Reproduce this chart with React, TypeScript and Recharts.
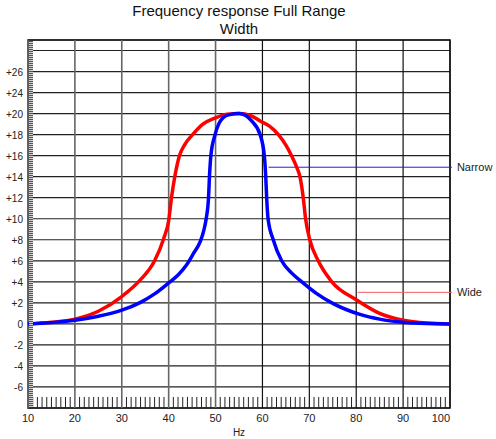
import React from 'react'
import { LineChart, Line, XAxis, YAxis, CartesianGrid, ReferenceArea, ReferenceLine, Label } from 'recharts'

document.body.style.margin = '0'

// frequency (Hz) and level (dB)
const wideHz = [10, 15, 20, 25, 30, 34, 37, 39, 40, 40.6, 41.3, 42.3, 43.5, 45.1, 47.3, 50, 52.5, 55, 57.5, 59.5, 61.5, 63.4, 65, 66.2, 67.3, 68, 68.7, 69.2, 70.1, 71.9, 74.8, 80, 85, 90, 95, 100]
const wideDb = [0, 0.15, 0.45, 1.2, 2.6, 4.2, 6.0, 8.2, 9.8, 12, 14, 16, 17.1, 18, 19, 19.6, 19.95, 20, 19.8, 19.3, 18.8, 18, 17, 16, 14.9, 14, 12, 10, 8, 6, 4, 2.3, 1.0, 0.35, 0.08, 0]

const narrowHz = [10, 15, 20, 25, 30, 34, 37, 40, 42, 43.8, 45.3, 46.7, 47.5, 48, 48.5, 48.7, 49, 49.9, 51.6, 53, 55, 56.5, 57.7, 59.5, 60.4, 60.7, 60.9, 61.2, 62.3, 64.1, 66.2, 68.4, 71.5, 74.8, 80.8, 85, 90, 95, 100]
const narrowDb = [0, 0.12, 0.35, 0.72, 1.3, 2.05, 2.85, 3.9, 4.65, 5.6, 6.7, 7.8, 8.9, 10, 12, 14, 16, 18, 19.6, 19.9, 20, 19.8, 19.3, 18, 16, 14, 12, 10, 8, 6, 4.85, 4, 2.9, 2, 0.9, 0.45, 0.15, 0.03, 0]

const wideData = wideHz.map((x, i) => ({ x, y: wideDb[i] }))
const narrowData = narrowHz.map((x, i) => ({ x, y: narrowDb[i] }))

const xTicks = [10, 20, 30, 40, 50, 60, 70, 80, 90, 100]
const yTicks = [-6, -4, -2, 0, 2, 4, 6, 8, 10, 12, 14, 16, 18, 20, 22, 24, 26]
const yTickLabels = ['-6', '-4', '-2', '0', '+2', '+4', '+6', '+8', '+10', '+12', '+14', '+16', '+18', '+20', '+24', '+26', '']

// minor tick marks along the bottom, every 1 Hz
const minorX = Array.from({ length: 91 }, (_, i) => 10 + i).filter((v) => v % 10 !== 0)

const font = '"Liberation Sans", Arial, Helvetica, sans-serif'

const XTick = (props: any) => {
    const { x, y, payload } = props
    const last = payload.value === 100
    return (
        <text x={x} y={y + 6} textAnchor={last ? 'end' : 'middle'} fontSize={11} fill="#222" fontFamily={font}>
            {payload.value}
        </text>
    )
}

const YTick = (props: any) => {
    const { x, y, payload } = props
    const idx = yTicks.indexOf(payload.value)
    return (
        <text x={x} y={y + 4} textAnchor="end" fontSize={10} fill="#222" fontFamily={font}>
            {idx >= 0 ? yTickLabels[idx] : ''}
        </text>
    )
}

const App = () => {
    return (
        <div style={{ position: 'relative', width: 496, height: 439, fontFamily: font, background: '#fff' }}>
            <div style={{ position: 'absolute', top: 2, left: 0, width: 478, textAlign: 'center', fontSize: 15, lineHeight: '18px', color: '#111' }}>
                Frequency response Full Range
                <br />
                Width
            </div>
            <LineChart width={496} height={439} margin={{ top: 40, right: 46, left: 0, bottom: 0 }}>
                <CartesianGrid stroke="#222" strokeWidth={1.2} vertical={false} />
                <XAxis dataKey="x" type="number" domain={[10, 100]} ticks={xTicks} interval={0}
                    axisLine={false} tickLine={false} tick={<XTick />} height={31}>
                    <Label value="Hz" position="insideBottom" offset={3} fontSize={10} fill="#222" fontFamily={font} />
                </XAxis>
                <YAxis type="number" domain={[-8, 27]} ticks={yTicks} interval={0} width={28}
                    axisLine={false} tickLine={false} tickSize={0} tickMargin={5} tick={<YTick />} />
                {xTicks.map((v) => (
                    <ReferenceLine key={'gx' + v} x={v} stroke={v <= 50 ? '#666' : '#111'} strokeWidth={v <= 50 ? 1.6 : 1.2} />
                ))}
                {minorX.map((v) => (
                    <ReferenceLine key={'mx' + v} segment={[{ x: v, y: -8 }, { x: v, y: -6.95 }]}
                        ifOverflow="visible" stroke="#222" strokeWidth={1} />
                ))}
                <ReferenceArea x1={10} x2={100} y1={-8} y2={27} fill="none" stroke="#111" strokeWidth={1.5} />
                <ReferenceLine segment={[{ x: 61.3, y: 14.9 }, { x: 100.4, y: 14.9 }]} ifOverflow="visible"
                    stroke="#2020e0" strokeWidth={1}>
                    <Label value="Narrow" position="right" offset={5} fontSize={11} fill="#222" fontFamily={font} />
                </ReferenceLine>
                <ReferenceLine segment={[{ x: 80.3, y: 3.0 }, { x: 100.4, y: 3.0 }]} ifOverflow="visible"
                    stroke="#f06060" strokeWidth={1}>
                    <Label value="Wide" position="right" offset={5} fontSize={11} fill="#222" fontFamily={font} />
                </ReferenceLine>
                <Line data={wideData} dataKey="y" type="monotone" stroke="#ff0000" strokeWidth={3.5}
                    dot={false} activeDot={false} isAnimationActive={false} />
                <Line data={narrowData} dataKey="y" type="monotone" stroke="#0000ff" strokeWidth={3.5}
                    dot={false} activeDot={false} isAnimationActive={false} />
            </LineChart>
            {/* fine hatch strip along the inside of the left frame */}
            <div style={{
                position: 'absolute', left: 28.5, top: 41, width: 4, height: 366,
                background: 'repeating-linear-gradient(to bottom, #555 0px, #555 1px, #d0d0d0 1px, #d0d0d0 2px)'
            }} />
        </div>
    )
}

export default App
